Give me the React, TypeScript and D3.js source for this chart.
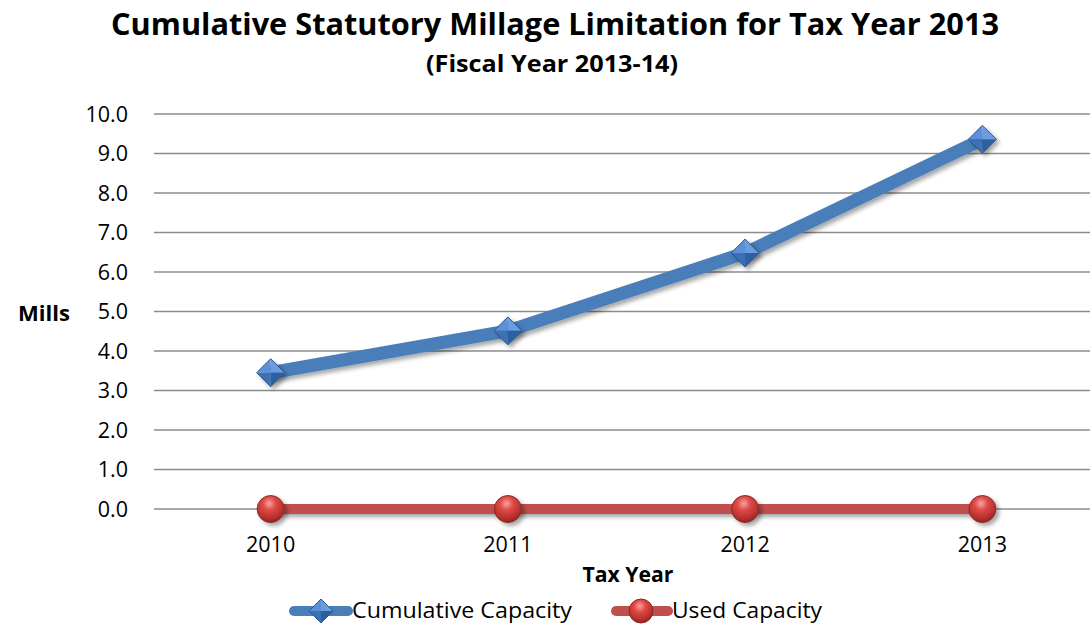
import React from "react";
import * as d3 from "d3";

const years = ["2010", "2011", "2012", "2013"];
const cumulativeCapacity = [3.45, 4.51, 6.48, 9.36];
const usedCapacity = [0, 0, 0, 0];
const yTicks = [0, 1, 2, 3, 4, 5, 6, 7, 8, 9, 10];
const title = "Cumulative Statutory Millage Limitation for Tax Year 2013";
const subtitle = "(Fiscal Year 2013-14)";
const seriesNames = ["Cumulative Capacity", "Used Capacity"];

const W = 1090;
const H = 624;
const FONT = "'Open Sans', 'Noto Sans', sans-serif";
const BLUE = "#4A7EBB";
const RED = "#C0504D";

function Diamond({ cx, cy, r }: { cx: number; cy: number; r: number }) {
  const t = [cx, cy - r], b = [cx, cy + r], l = [cx - r, cy], rr = [cx + r, cy];
  const c = [cx, cy];
  const p = (pts: number[][]) => pts.map((q) => q.join(",")).join(" ");
  return (
    <g>
      <polygon points={p([t, rr, c])} fill="#6a9de0" />
      <polygon points={p([t, l, c])} fill="#5b90d8" />
      <polygon points={p([l, b, c])} fill="#3d6fb5" />
      <polygon points={p([rr, b, c])} fill="#2f5e9f" />
      <polygon points={p([t, rr, b, l])} fill="none" stroke="#2b5791" strokeWidth={1} />
    </g>
  );
}

function Sphere({ cx, cy, r }: { cx: number; cy: number; r: number }) {
  return <circle cx={cx} cy={cy} r={r} fill="url(#sphereGrad)" stroke="#8a2a28" strokeWidth={1} />;
}

export default function App() {
  const x = d3.scalePoint<string>().domain(years).range([152, 1101]).padding(0.5);
  const y = d3.scaleLinear().domain([0, 10]).range([509, 114]);
  const gridX0 = 154;
  const gridX1 = W;

  const line = d3
    .line<number>()
    .x((_, i) => x(years[i]) as number)
    .y((d) => y(d));

  return (
    <svg width={W} height={H} style={{ position: "absolute", left: 0, top: 0 }}>
      <defs>
        <filter id="shadow" x="-20%" y="-50%" width="140%" height="200%">
          <feDropShadow dx={3} dy={3} stdDeviation={2.2} floodColor="#000" floodOpacity={0.35} />
        </filter>
        <radialGradient id="sphereGrad" cx="45%" cy="30%" r="70%">
          <stop offset="0%" stopColor="#f7a3a1" />
          <stop offset="35%" stopColor="#e04a46" />
          <stop offset="80%" stopColor="#b52f2c" />
          <stop offset="100%" stopColor="#8f2422" />
        </radialGradient>
      </defs>
      <rect width={W} height={H} fill="#fff" />

      <text x={555} y={35} textAnchor="middle" fontFamily={FONT} fontWeight="bold" fontSize={31}
        textLength={888} lengthAdjust="spacingAndGlyphs" fill="#000">{title}</text>
      <text x={552} y={72} textAnchor="middle" fontFamily={FONT} fontWeight="bold" fontSize={23}
        textLength={252} lengthAdjust="spacingAndGlyphs" fill="#000">{subtitle}</text>

      {yTicks.map((t) => (
        <g key={t}>
          <line x1={gridX0} x2={gridX1} y1={y(t)} y2={y(t)} stroke="#8c8c8c" strokeWidth={1.6} />
          <text x={128} y={y(t) + 7.5} textAnchor="end" fontFamily={FONT} fontSize={21.5} fill="#000">
            {t.toFixed(1)}
          </text>
        </g>
      ))}

      <text x={44} y={321} textAnchor="middle" fontFamily={FONT} fontWeight="bold" fontSize={21}
        textLength={52} lengthAdjust="spacingAndGlyphs" fill="#000">Mills</text>

      {years.map((yr) => (
        <text key={yr} x={x(yr)} y={552} textAnchor="middle" fontFamily={FONT} fontSize={21.5} fill="#000">{yr}</text>
      ))}
      <text x={628} y={582} textAnchor="middle" fontFamily={FONT} fontWeight="bold" fontSize={21}
        textLength={91} lengthAdjust="spacingAndGlyphs" fill="#000">Tax Year</text>

      <g filter="url(#shadow)">
        <path d={line(usedCapacity) || ""} fill="none" stroke={RED} strokeWidth={10} strokeLinejoin="round" />
        <path d={line(cumulativeCapacity) || ""} fill="none" stroke={BLUE} strokeWidth={13} strokeLinejoin="round" />
      </g>
      <g filter="url(#shadow)">
        {usedCapacity.map((v, i) => (
          <Sphere key={i} cx={x(years[i]) as number} cy={y(v)} r={13.5} />
        ))}
        {cumulativeCapacity.map((v, i) => (
          <Diamond key={i} cx={x(years[i]) as number} cy={y(v)} r={14} />
        ))}
      </g>

      <g>
        <line x1={294} x2={348} y1={611} y2={611} stroke={BLUE} strokeWidth={10} strokeLinecap="round" />
        <Diamond cx={321} cy={611} r={12} />
        <text x={352} y={618} fontFamily={FONT} fontSize={21} fill="#000" textLength={220} lengthAdjust="spacingAndGlyphs">{seriesNames[0]}</text>
        <line x1={616} x2={668} y1={611} y2={611} stroke={RED} strokeWidth={10} strokeLinecap="round" />
        <Sphere cx={641} cy={611} r={12} />
        <text x={672} y={618} fontFamily={FONT} fontSize={21} fill="#000" textLength={150} lengthAdjust="spacingAndGlyphs">{seriesNames[1]}</text>
      </g>
    </svg>
  );
}
